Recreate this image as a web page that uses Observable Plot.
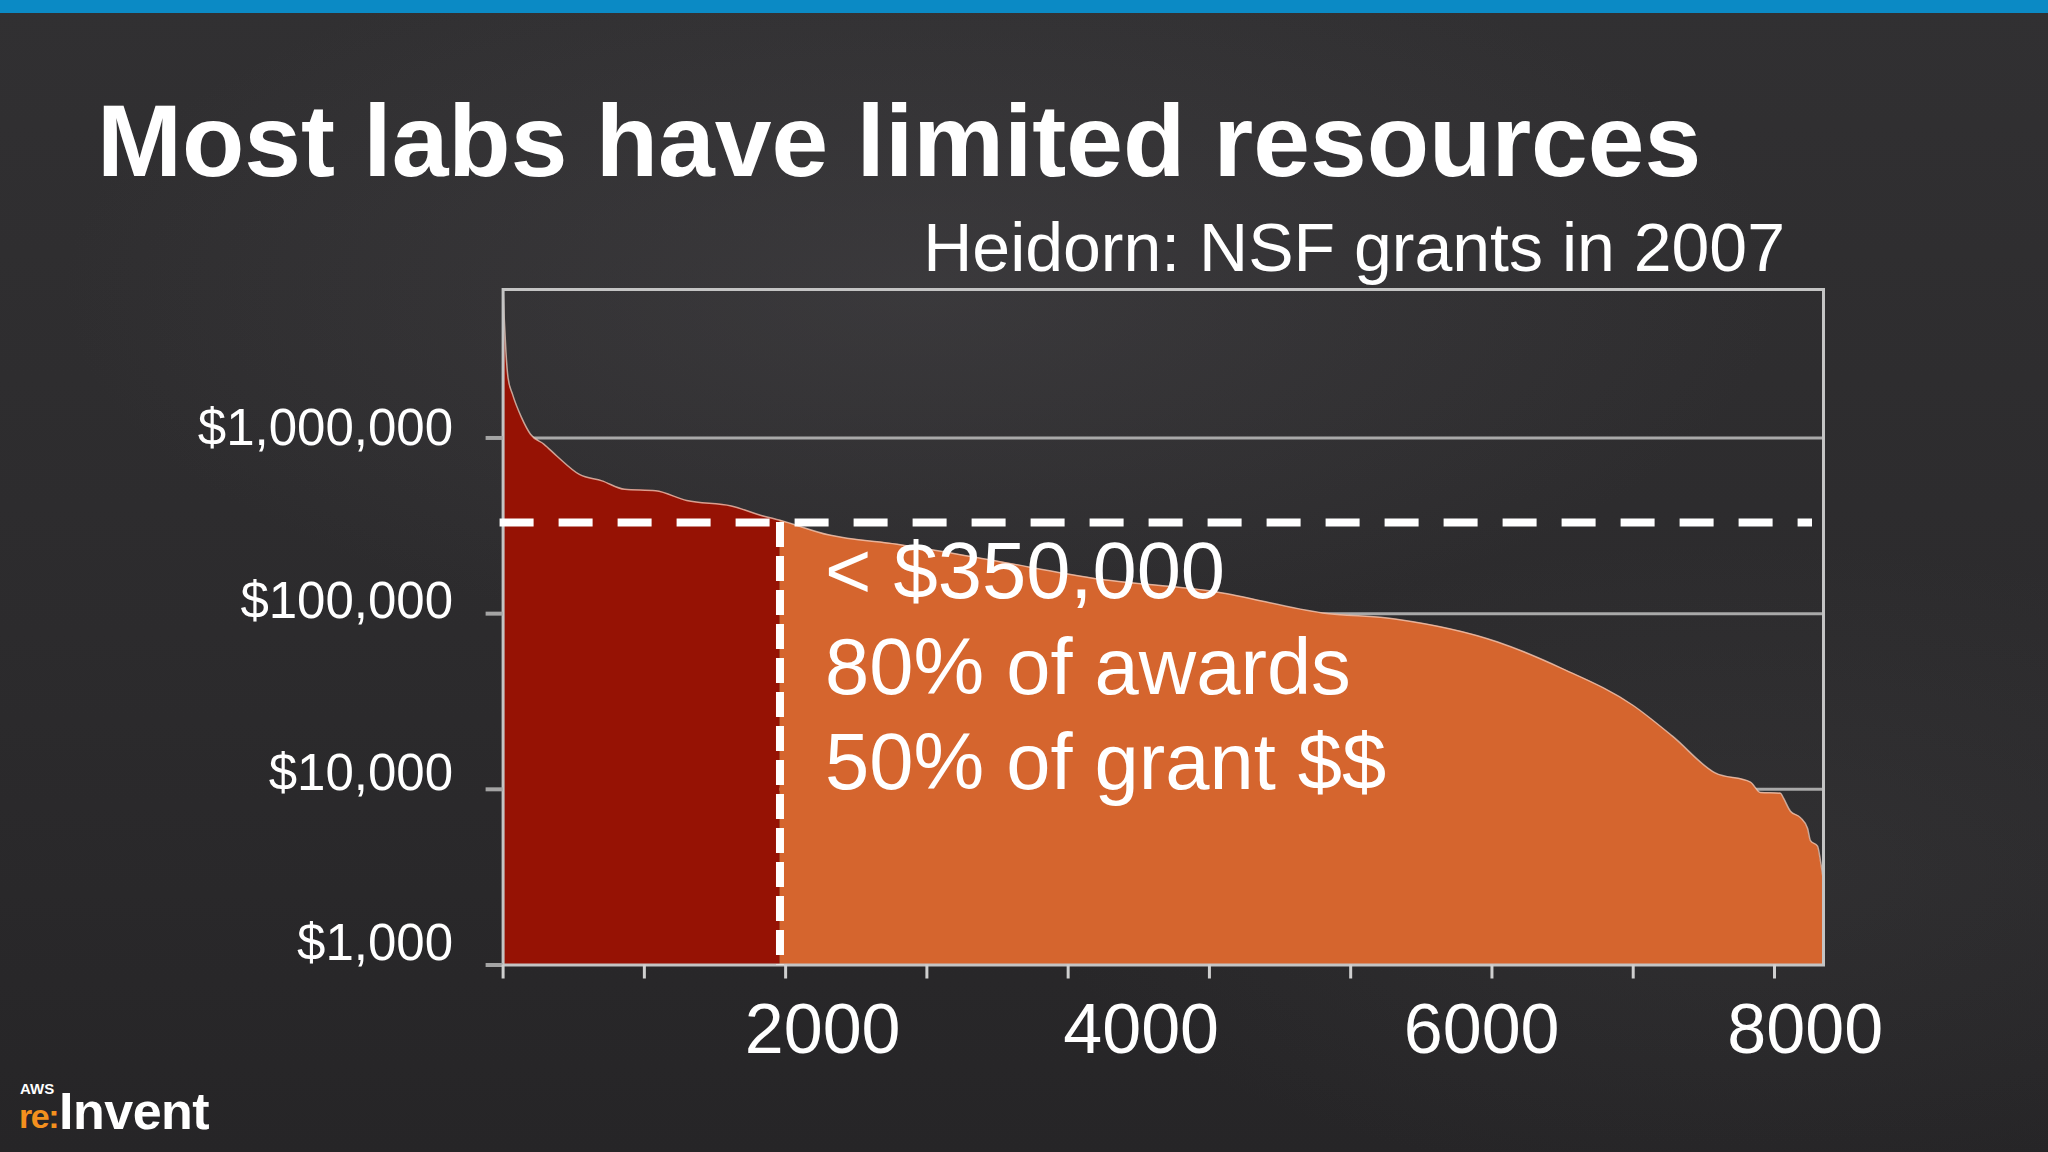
<!DOCTYPE html>
<html>
<head>
<meta charset="utf-8">
<script src="https://cdn.jsdelivr.net/npm/d3@7"></script>
<script src="https://cdn.jsdelivr.net/npm/@observablehq/plot@0.6"></script>
<style>
  html, body { margin: 0; padding: 0; background: #2b2a2c; }
  #slide {
    position: relative; width: 2048px; height: 1152px; overflow: hidden;
    font-family: "Liberation Sans", Arial, Helvetica, sans-serif; color: #fff;
    background:
      radial-gradient(ellipse 60% 45% at 45% 25%, rgba(80,78,82,0.35), rgba(0,0,0,0) 70%),
      radial-gradient(ellipse 50% 40% at 85% 75%, rgba(70,70,72,0.25), rgba(0,0,0,0) 70%),
      linear-gradient(180deg, #313032 0%, #2c2b2d 55%, #262527 100%);
  }
  #topbar { position: absolute; left: 0; top: 0; width: 2048px; height: 13px; background: #0b8ac5; }
  #chart { position: absolute; left: 0; top: 0; }
  #title { position: absolute; left: 97px; top: 90px; font-size: 102px; font-weight: bold; line-height: 1; white-space: nowrap; }
  #subtitle { position: absolute; right: 263px; top: 213px; font-size: 68px; line-height: 1; white-space: nowrap; }
  .logo { position: absolute; font-weight: bold; white-space: nowrap; line-height: 1; }
  #aws { left: 20px; top: 1080.5px; font-size: 15px; color: #fff; }
  #re { left: 19px; top: 1099.2px; font-size: 34px; color: #f4901e; letter-spacing: -1.5px; }
  #invent { left: 59px; top: 1085px; font-size: 52px; color: #fff; letter-spacing: -0.5px; }
</style>
</head>
<body>
<div id="slide">
  <div id="topbar"></div>
  <div id="chart"></div>
  <div id="title">Most labs have limited resources</div>
  <div id="subtitle">Heidorn: NSF grants in 2007</div>
  <div class="logo" id="aws">AWS</div>
  <div class="logo" id="re">re:</div>
  <div class="logo" id="invent">Invent</div>
</div>
<script>
// ---- data ----
const ranks = [0, 8, 20, 35, 67, 130, 194, 290, 380, 540, 700, 860, 1080, 1300, 1615, 1840, 1960,
  2310, 2790, 3420, 4230, 5050, 5800, 6325, 7040, 7490, 8000, 8280, 8580, 8830, 8900, 9043, 9064,
  9113, 9184, 9234, 9255, 9305, 9326, 9347];
const amounts = [6950000, 4800000, 3100000, 2200000, 1770000, 1310000, 1050000, 920000, 790000, 620000,
  570000, 510000, 500000, 440000, 410000, 360000, 340000,
  280000, 248000, 204000, 157000, 133000, 101000, 93000, 69000, 49000, 30000, 20000, 12400, 11000, 9600,
  9500, 8900, 7500, 6900, 6000, 5100, 4750, 3900, 3000];
const threshold = 330000;      // dashed horizontal line
const splitRank = 1960;        // dashed vertical line
const yTickValues = [1000, 10000, 100000, 1000000];
const gridValues = [10000, 100000, 1000000];
const xTickValues = [0, 1000, 2000, 3000, 4000, 5000, 6000, 7000, 8000, 9000];
const xLabelValues = [2000, 4000, 6000, 8000];
const annotation = ["< $350,000", "80% of awards", "50% of grant $$"];

// ---- styling (label nudges as in the slide) ----
const xLabelNudge = [37, 73, 131, 172];
const yLabelNudge = [-21, -16, -12, -9];

const rows = ranks.map((r, i) => ({rank: r, amount: amounts[i]}));
const redRows = rows.filter(d => d.rank <= splitRank);
const orangeRows = rows.filter(d => d.rank >= splitRank);
const fmt = d3.format("$,.0f");
const FONT = '"Liberation Sans", Arial, Helvetica, sans-serif';

const marks = [
  Plot.ruleY(gridValues, {stroke: "#a9a9a9", strokeWidth: 3}),
  Plot.areaY(redRows, {x: "rank", y1: 1000, y2: "amount", fill: "#961204", curve: "monotone-x"}),
  Plot.areaY(orangeRows, {x: "rank", y1: 1000, y2: "amount", fill: "#d5652e", curve: "monotone-x"}),
  Plot.line(rows, {x: "rank", y: "amount", stroke: "#f2cdbd", strokeWidth: 1.5, strokeOpacity: 0.75, curve: "monotone-x"}),
  Plot.frame({stroke: "#c4c4c4", strokeWidth: 3}),
  Plot.ruleY([threshold], {stroke: "white", strokeWidth: 8, strokeDasharray: "34,25", insetLeft: -3, insetRight: 11}),
  Plot.ruleX([splitRank], {y1: threshold, y2: 1000, stroke: "white", strokeWidth: 8, strokeDasharray: "25,9"}),
  Plot.axisY(yTickValues, {tickSize: 17, tickFormat: () => "", stroke: "#a4a4a4", strokeWidth: 4, label: null}),
  Plot.axisX(xTickValues, {tickSize: 14, tickFormat: () => "", stroke: "#cfcfcf", strokeWidth: 3, label: null}),
  ...yTickValues.map((v, i) => Plot.axisY([v], {
    tickSize: 0, tickPadding: 50, dy: yLabelNudge[i], tickFormat: fmt,
    fontSize: 51, fill: "white", label: null
  })),
  ...xLabelValues.map((v, i) => Plot.axisX([v], {
    tickSize: 0, tickPadding: 38, dx: xLabelNudge[i], tickFormat: d => String(v),
    fontSize: 70, fill: "white", label: null
  })),
  Plot.text([annotation.join("\n")], {
    x: splitRank, y: threshold, dx: 45, dy: 8, text: d => d,
    textAnchor: "start", lineAnchor: "top", lineHeight: 1.2,
    fontSize: 79.5, fill: "white"
  })
];

const chart = Plot.plot({
  width: 2048,
  height: 1152,
  marginLeft: 502.6,
  marginRight: 225,
  marginTop: 289,
  marginBottom: 187.5,
  x: {domain: [0, 9347], label: null},
  y: {type: "log", domain: [1000, 7000000], label: null},
  style: {background: "transparent", color: "white", fontFamily: FONT},
  marks
});
document.getElementById("chart").appendChild(chart);
</script>
</body>
</html>
